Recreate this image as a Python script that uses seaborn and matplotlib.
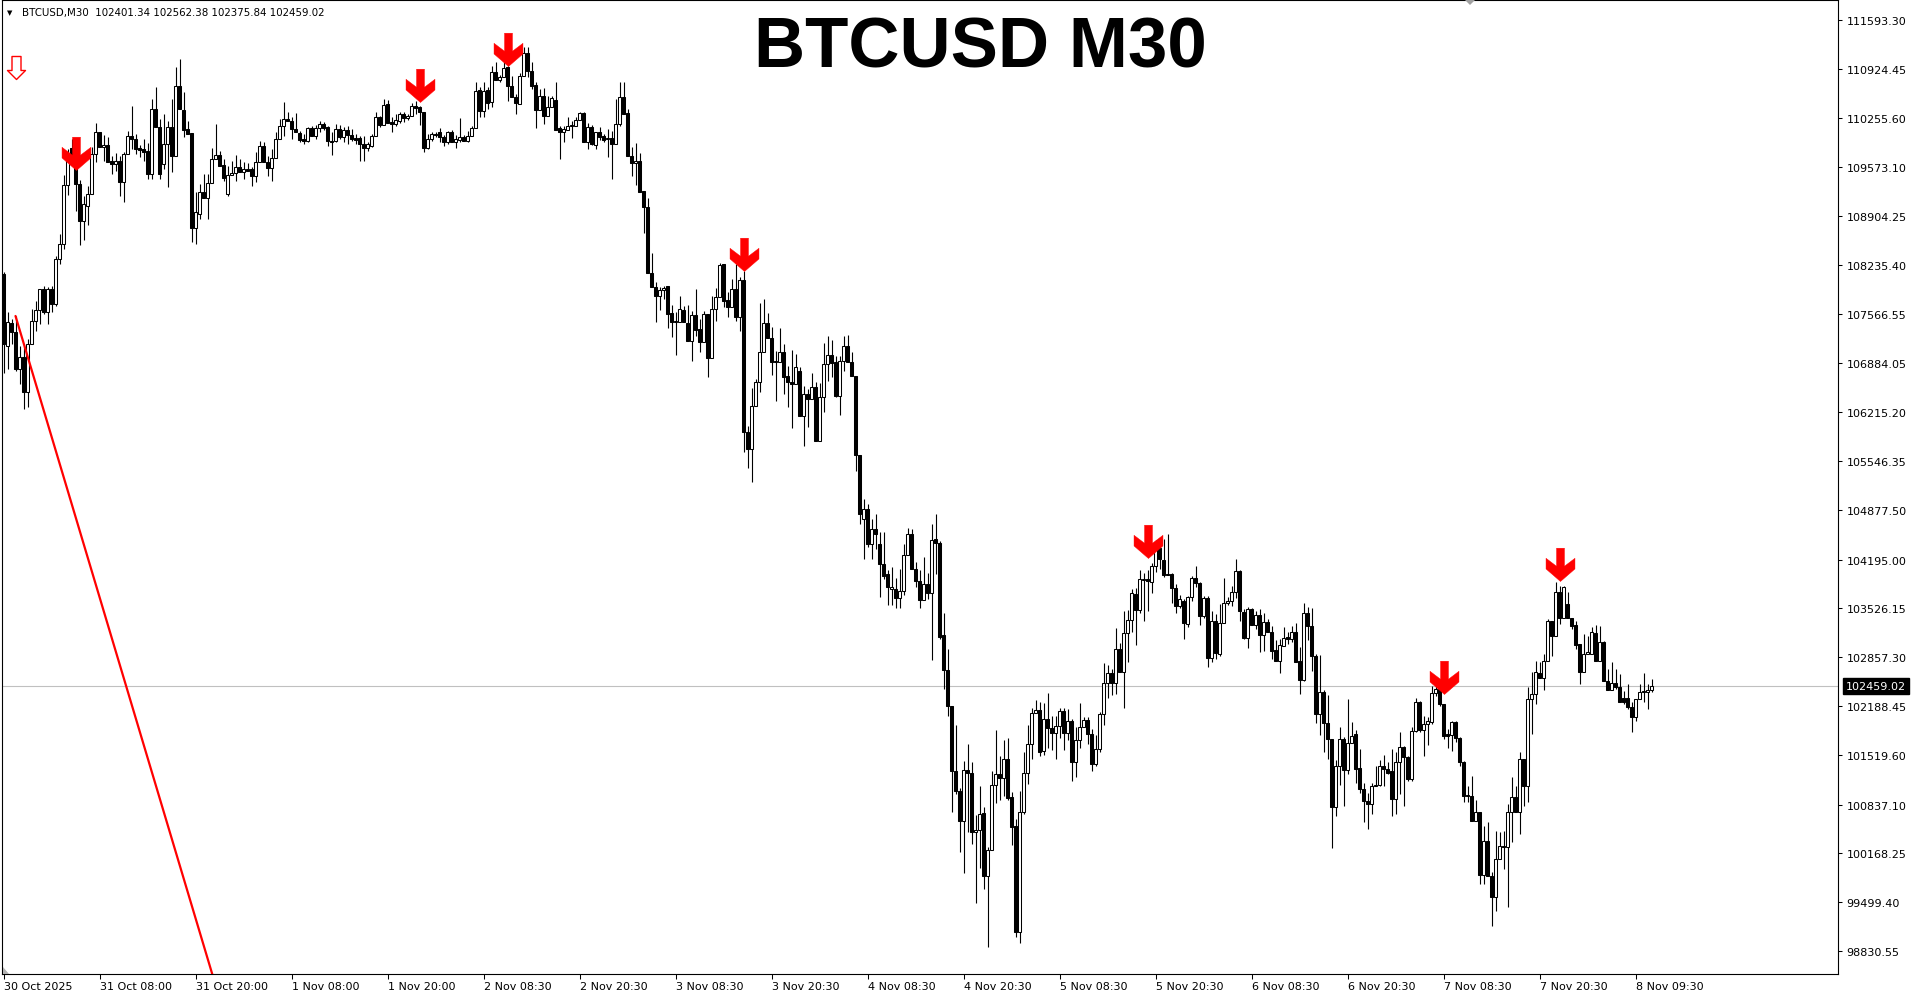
import numpy as np
import pandas as pd
import matplotlib
matplotlib.use("Agg")
import matplotlib.pyplot as plt
import seaborn as sns
from matplotlib.path import Path
from matplotlib.markers import MarkerStyle
from matplotlib.patches import Polygon
from matplotlib.transforms import blended_transform_factory

# M30 candles (one value per bar)
open_ = [
    108110, 107124, 107439, 107316, 106808, 106973, 106493, 107151, 107466, 107617,
    107905, 107590, 107905, 107700, 108316, 108522, 109331, 109838, 109687, 109345,
    108837, 109043, 109208, 109756, 110058, 109852, 109879, 109660, 109619, 109660,
    109372, 109756, 110003, 109962, 109838, 109825, 109797, 109482, 110373, 110126,
    109619, 109893, 110126, 109729, 110688, 110359, 110099, 110044, 108741, 108933,
    109235, 109153, 109358, 109687, 109742, 109605, 109208, 109468, 109495, 109578,
    109509, 109550, 109550, 109454, 109646, 109866, 109646, 109564, 109701, 109962,
    110140, 110236, 110208, 110099, 110044, 109962, 109934, 110112, 110003, 110112,
    110167, 110126, 109934, 109934, 110099, 109989, 110085, 110016, 109975, 109975,
    109893, 109838, 109866, 110003, 110263, 110154, 110441, 110195, 110167, 110208,
    110304, 110249, 110277, 110414, 110400, 110332, 109838, 109962, 110030, 110058,
    109989, 109921, 110058, 109921, 109948, 109989, 109934, 110003, 110112, 110634,
    110345, 110634, 110469, 110880, 110771, 110812, 110949, 110688, 110537, 110441,
    110825, 111141, 110894, 110702, 110359, 110551, 110277, 110400, 110496, 110112,
    110058, 110085, 110140, 110140, 110222, 110318, 109921, 110126, 109879, 110058,
    110003, 109962, 109975, 109893, 110167, 110538, 110318, 109729, 109633, 109660,
    109249, 109029, 108125, 107933, 107809, 107891, 107946, 107576, 107453, 107453,
    107617, 107439, 107192, 107549, 107357, 107178, 107562, 106959, 107631, 107795,
    108248, 107754, 107658, 107905, 107521, 108029, 105945, 105712, 106301, 106630,
    107041, 107439, 107233, 106918, 106904, 107041, 106712, 106630, 106603, 106781,
    106164, 106466, 106397, 106562, 105821, 106424, 106877, 107000, 106904, 106438,
    106918, 107124, 106904, 106712, 105629, 104752, 104889, 104409, 104615, 104409,
    104135, 103998, 103792, 103792, 103669, 103765, 104258, 104546, 104067, 103902,
    103642, 103861, 103738, 104478, 104423, 103162, 102682, 102188, 101297, 101023,
    100611, 101311, 101270, 100461, 100488, 100721, 99857, 100214, 101105, 101256,
    101201, 101462, 100940, 100543, 99090, 100735, 101270, 101667, 102092, 102133,
    101571, 102010, 101886, 101818, 101914, 102119, 101818, 101982, 101421, 101722,
    101900, 101996, 101804, 101393, 101599, 102078, 102503, 102641, 102503, 102970,
    102654, 103189, 103367, 103724, 103504, 103916, 103929, 103888, 104107, 104354,
    104190, 103998, 103998, 103806, 103559, 103628, 103312, 103683, 103943, 103875,
    103422, 103669, 102846, 103354, 102901, 103326, 103600, 103628, 103751, 104039,
    103477, 103121, 103518, 103299, 103436, 103162, 103340, 103203, 102956, 102805,
    103011, 103134, 103107, 103203, 102805, 102545, 103463, 103285, 102874, 102078,
    102380, 101955, 101736, 100803, 101366, 101736, 101311, 101681, 101804, 101338,
    101050, 100886, 100845, 101092, 101105, 101366, 101325, 101297, 100913, 101421,
    101626, 101489, 101187, 101845, 102243, 101859, 101941, 101969, 102366, 102421,
    102216, 101804, 101790, 101969, 101749, 101421, 100968, 100954, 100612, 100735,
    99871, 100337, 99857, 99569, 100090, 100268, 100255, 100735, 100940, 100735,
    101462, 101092, 102284, 102352, 102641, 102572, 102805, 103353, 103148, 103751,
    103395, 103587, 103395, 103299, 103038, 102654, 102901, 102901, 103189, 102805,
    103065, 102531, 102407, 102503, 102448, 102298, 102298, 102174, 102037, 102284,
    102380, 102380, 102401.34,
]
high = [
    108140, 107590, 107494, 107535, 107124, 107124, 107220, 107631, 107741, 107905,
    107946, 107932, 107946, 108357, 108659, 109468, 109825, 109962, 109825, 109400,
    109180, 109317, 109852, 110181, 110058, 110016, 109989, 109729, 109770, 109729,
    109784, 110071, 110414, 110030, 109879, 109962, 109907, 110510, 110675, 110236,
    110304, 110208, 110510, 110949, 111058, 110606, 110208, 110044, 109235, 109345,
    109482, 109482, 109838, 110167, 109797, 109687, 109592, 109660, 109742, 109687,
    109646, 109632, 109578, 109784, 109934, 109921, 109729, 109825, 110058, 110236,
    110469, 110332, 110263, 110318, 110071, 110030, 110126, 110140, 110154, 110208,
    110195, 110140, 110058, 110167, 110154, 110126, 110140, 110099, 110030, 110003,
    110003, 109921, 110030, 110332, 110277, 110510, 110496, 110263, 110304, 110332,
    110332, 110304, 110455, 110483, 110414, 110332, 110030, 110058, 110058, 110112,
    110016, 110071, 110085, 110016, 110249, 110016, 110071, 110140, 110743, 110675,
    110743, 110675, 110962, 111017, 110839, 111017, 110962, 110825, 110579, 110866,
    111223, 111223, 111017, 110743, 110647, 110661, 110551, 110551, 110743, 110140,
    110140, 110263, 110208, 110263, 110332, 110332, 110181, 110154, 110058, 110126,
    110030, 110099, 110071, 110510, 110743, 110743, 110373, 109852, 109907, 109770,
    109249, 109153, 108399, 108001, 107933, 107946, 107946, 107686, 107590, 107809,
    107672, 107686, 107604, 107905, 107494, 107604, 107562, 107809, 107919, 108262,
    108248, 107864, 108042, 108248, 108070, 108152, 106027, 106548, 106671, 107713,
    107768, 107576, 107384, 107055, 107370, 107151, 106850, 107069, 107014, 106836,
    106575, 106534, 106753, 106630, 106617, 107165, 107261, 107206, 106987, 106987,
    107261, 107275, 107041, 106712, 105629, 105026, 104957, 104752, 104820, 104574,
    104574, 104053, 104094, 103943, 104067, 104409, 104629, 104615, 104162, 104053,
    104231, 104012, 104683, 104820, 104450, 103463, 102970, 102188, 101928, 101064,
    101434, 101667, 101421, 100694, 101092, 100803, 100255, 101297, 101859, 101503,
    101722, 101749, 101009, 100639, 101023, 101558, 101928, 102161, 102270, 102243,
    102229, 102366, 102051, 102051, 102161, 102161, 102147, 102010, 101900, 102229,
    102037, 102037, 101872, 101790, 102106, 102777, 102750, 102695, 103258, 103052,
    103490, 103504, 103792, 103806, 104053, 104012, 104053, 104149, 104464, 104409,
    104478, 104546, 104012, 103861, 103710, 103655, 103696, 103971, 104107, 103888,
    103696, 103696, 103490, 103450, 103587, 103943, 103683, 103834, 104204, 104053,
    103518, 103545, 103532, 103490, 103518, 103463, 103381, 103285, 103093, 103107,
    103271, 103203, 103285, 103326, 102997, 103600, 103545, 103532, 102901, 102887,
    102407, 102339, 101736, 101448, 101900, 101763, 102284, 101969, 101859, 101599,
    101133, 100995, 101133, 101366, 101448, 101516, 101421, 101599, 101558, 101831,
    101640, 101503, 101900, 102298, 102256, 102051, 102037, 102462, 102517, 102462,
    102216, 101872, 101982, 101982, 101763, 101434, 101092, 101228, 100899, 100735,
    100543, 100598, 99912, 100474, 100461, 100474, 100844, 101215, 101092, 101558,
    101462, 102449, 102655, 102805, 102791, 102901, 103381, 103353, 103888, 103834,
    103834, 103751, 103395, 103353, 103038, 103175, 103148, 103271, 103299, 103285,
    103079, 102695, 102791, 102695, 102627, 102394, 102490, 102243, 102256, 102490,
    102641, 102490, 102562.38,
]
low = [
    106750, 106808, 107151, 106781, 106603, 106260, 106288, 107151, 107329, 107425,
    107562, 107425, 107590, 107672, 108248, 108453, 109194, 109715, 108974, 108508,
    108577, 108783, 109208, 109646, 109852, 109660, 109646, 109482, 109523, 109180,
    109098, 109756, 109825, 109756, 109715, 109660, 109413, 109413, 110126, 109413,
    109550, 109304, 109509, 109729, 110373, 109989, 110030, 108549, 108522, 108865,
    109153, 108865, 109358, 109687, 109592, 109386, 109180, 109468, 109386, 109509,
    109413, 109523, 109317, 109372, 109646, 109646, 109454, 109386, 109701, 109962,
    110003, 110208, 109962, 110058, 109921, 109893, 109921, 110003, 109962, 110058,
    110085, 109866, 109742, 109921, 109962, 109921, 109893, 109934, 109893, 109660,
    109660, 109797, 109852, 110003, 110126, 110154, 110181, 110058, 110140, 110181,
    110195, 110222, 110277, 110304, 110154, 109784, 109825, 109934, 109989, 109921,
    109866, 109893, 109921, 109838, 109921, 109934, 109921, 110003, 110112, 110263,
    110263, 110373, 110400, 110771, 110743, 110812, 110483, 110537, 110304, 110441,
    110825, 110812, 110647, 110112, 110359, 110167, 110277, 110400, 110085, 109687,
    109921, 110085, 109975, 110140, 110222, 109921, 109825, 109879, 109825, 109948,
    109921, 109715, 109413, 109893, 110140, 110304, 109729, 109454, 109331, 109235,
    108673, 108125, 107933, 107453, 107617, 107768, 107370, 107247, 107000, 107453,
    107453, 107192, 106918, 107261, 107041, 107178, 106699, 106959, 107466, 107795,
    107658, 107521, 107658, 107466, 107329, 105670, 105451, 105259, 106301, 106493,
    107041, 107233, 106726, 106370, 106904, 106466, 106287, 105999, 106603, 106164,
    105752, 106013, 106397, 105821, 105821, 106219, 106644, 106699, 106424, 106178,
    106781, 106904, 106712, 105410, 104683, 104204, 104368, 104204, 104340, 103683,
    103929, 103573, 103573, 103532, 103532, 103710, 104258, 104067, 103820, 103532,
    103642, 103655, 102818, 103998, 103107, 102421, 102051, 100735, 100982, 100186,
    99898, 100461, 100296, 99487, 99967, 99679, 98884, 100214, 100858, 100899,
    100954, 100899, 100282, 99021, 98939, 100707, 101119, 101462, 102092, 101503,
    101516, 101612, 101585, 101462, 101749, 101585, 101722, 101160, 101215, 101612,
    101900, 101667, 101297, 101366, 101558, 101928, 102298, 102339, 102352, 102654,
    102161, 102791, 103203, 103024, 103463, 103353, 103490, 103738, 104025, 104067,
    103957, 103984, 103600, 103463, 103532, 103107, 103271, 103628, 103820, 103299,
    103394, 102723, 102791, 102832, 102873, 103326, 103573, 103559, 103669, 103353,
    103107, 102983, 103299, 103244, 102928, 102942, 103203, 102832, 102805, 102641,
    103011, 103038, 103066, 102791, 102352, 102531, 103093, 102668, 101955, 101790,
    101558, 101462, 100241, 100680, 101105, 100817, 101256, 101681, 101133, 100995,
    100598, 100502, 100707, 101092, 101092, 101092, 101256, 100680, 100707, 100981,
    100817, 101160, 101160, 101831, 101831, 101503, 101653, 101941, 102325, 102188,
    101736, 101612, 101571, 101695, 101366, 100872, 100872, 100612, 100612, 99748,
    99748, 99857, 99172, 99377, 100090, 99953, 99432, 100323, 100735, 100433,
    100817, 100872, 101804, 102216, 102572, 102407, 102805, 102874, 103148, 103312,
    103395, 103395, 103244, 102970, 102490, 102654, 102901, 102901, 102805, 102805,
    102531, 102407, 102407, 102421, 102243, 102216, 102147, 101831, 101982, 102284,
    102243, 102147, 102375.84,
]
close = [
    107150, 107453, 107316, 106808, 106973, 106493, 107151, 107466, 107617, 107905,
    107590, 107905, 107700, 108316, 108522, 109331, 109715, 109715, 109345, 108837,
    109070, 109208, 109756, 110058, 109852, 109879, 109646, 109619, 109660, 109372,
    109756, 110003, 109962, 109825, 109811, 109784, 109482, 110373, 110126, 109482,
    109893, 110126, 109729, 110688, 110373, 110085, 110030, 108741, 108961, 109235,
    109153, 109358, 109687, 109742, 109592, 109427, 109468, 109495, 109578, 109509,
    109550, 109523, 109454, 109646, 109866, 109646, 109564, 109701, 109962, 110140,
    110236, 110208, 110099, 110058, 109948, 109934, 110112, 110003, 110112, 110167,
    110112, 109934, 109921, 110099, 109989, 110085, 110016, 109962, 109948, 109893,
    109838, 109893, 110003, 110263, 110154, 110428, 110181, 110167, 110222, 110304,
    110249, 110277, 110414, 110387, 110332, 109838, 109962, 110030, 110016, 109989,
    109921, 110058, 109921, 109962, 109989, 109934, 110003, 110112, 110620, 110345,
    110620, 110455, 110880, 110771, 110812, 110935, 110688, 110537, 110455, 110825,
    111141, 110894, 110688, 110359, 110551, 110277, 110400, 110524, 110085, 110058,
    110099, 110140, 110154, 110222, 110318, 109921, 110126, 109893, 110058, 109989,
    109948, 109975, 109893, 110167, 110538, 110304, 109729, 109633, 109660, 109235,
    109029, 108125, 107933, 107809, 107891, 107919, 107562, 107453, 107466, 107631,
    107453, 107192, 107549, 107343, 107178, 107562, 106959, 107631, 107795, 108234,
    107741, 107658, 107905, 107521, 108029, 105945, 105712, 106301, 106630, 107041,
    107439, 107233, 106904, 106904, 107041, 106699, 106630, 106603, 106836, 106164,
    106466, 106397, 106562, 105821, 106424, 106877, 107000, 106891, 106438, 106918,
    107124, 106904, 106712, 105629, 104820, 104889, 104409, 104615, 104546, 104135,
    103971, 103820, 103820, 103669, 103765, 104258, 104546, 104067, 103902, 103642,
    103861, 103738, 104464, 104423, 103134, 102682, 102188, 101297, 101023, 100611,
    101311, 101270, 100461, 100488, 100707, 99857, 100214, 101105, 101256, 101201,
    101462, 100927, 100529, 99090, 100735, 101270, 101667, 102092, 102133, 101558,
    102010, 101886, 101818, 101914, 102119, 101818, 101982, 101421, 101722, 101900,
    101996, 101804, 101393, 101599, 102078, 102503, 102641, 102503, 102970, 102654,
    103189, 103367, 103737, 103504, 103929, 103929, 103902, 104107, 104354, 104204,
    103984, 103984, 103806, 103559, 103655, 103326, 103683, 103943, 103875, 103422,
    103669, 102846, 103354, 102914, 103326, 103600, 103628, 103751, 104039, 103490,
    103121, 103518, 103299, 103436, 103162, 103340, 103203, 102942, 102805, 103024,
    103121, 103107, 103203, 102791, 102545, 103463, 103285, 102874, 102078, 102380,
    101955, 101736, 100803, 101366, 101736, 101311, 101681, 101777, 101325, 101050,
    100886, 100845, 101092, 101105, 101366, 101325, 101270, 100913, 101421, 101626,
    101489, 101187, 101845, 102243, 101859, 101941, 101982, 102366, 102421, 102216,
    101777, 101777, 101969, 101749, 101421, 100954, 100954, 100612, 100735, 99871,
    100337, 99857, 99569, 100090, 100268, 100255, 100735, 100940, 100735, 101462,
    101092, 102284, 102352, 102654, 102572, 102805, 103353, 103148, 103751, 103395,
    103820, 103395, 103285, 103025, 102654, 102901, 102928, 103203, 102805, 103065,
    102531, 102407, 102503, 102448, 102243, 102243, 102174, 102037, 102284, 102380,
    102394, 102407, 102459.02,
]

# time axis: a label every 24 bars
time_bars = [0, 24, 48, 72, 96, 120, 144, 168, 192, 216, 240, 264, 288, 312, 336, 360, 384, 408]
time_labels = ['30 Oct 2025', '31 Oct 08:00', '31 Oct 20:00', '1 Nov 08:00', '1 Nov 20:00',
               '2 Nov 08:30', '2 Nov 20:30', '3 Nov 08:30', '3 Nov 20:30', '4 Nov 08:30',
               '4 Nov 20:30', '5 Nov 08:30', '5 Nov 20:30', '6 Nov 08:30', '6 Nov 20:30',
               '7 Nov 08:30', '7 Nov 20:30', '8 Nov 09:30']
price_ticks = [111593.30, 110924.45, 110255.60, 109573.10, 108904.25, 108235.40, 107566.55,
               106884.05, 106215.20, 105546.35, 104877.50, 104195.00, 103526.15, 102857.30,
               102188.45, 101519.60, 100837.10, 100168.25, 99499.40, 98830.55]

# sell signals (arrow tip bar / price)
signal_bar = [18, 104, 126, 185, 286, 360, 389]
signal_price = [109537, 110469, 110962, 108152, 104217, 102352, 103902]
first_signal_bar = [3]
first_signal_price = [110784]

# red trend line anchors
trend_bar = [3, 60]
trend_price = [107535, 97080]

last_price = 102459.02
header = "BTCUSD,M30  102401.34 102562.38 102375.84 102459.02"

W, H = 1917, 995


def main():
    sns.set_style("white")
    plt.rcParams['font.family'] = ['DejaVu Sans']

    df = pd.DataFrame({'open': open_, 'high': high, 'low': low, 'close': close})
    df['bar'] = np.arange(len(df))
    df['up'] = df['close'] >= df['open']
    df['bottom'] = df[['open', 'close']].min(axis=1)
    df['size'] = (df['close'] - df['open']).abs().clip(lower=12)

    fig = plt.figure(figsize=(W / 100, H / 100), dpi=100)
    ax = fig.add_axes([2 / W, 20 / H, 1836 / W, 974 / H])

    # wicks then bodies
    ax.vlines(df['bar'], df['low'], df['high'], color='black', linewidth=0.8, zorder=2)
    ax.bar(df['bar'], df['size'], bottom=df['bottom'], width=0.55,
           color=np.where(df['up'], 'white', 'black'), edgecolor='black',
           linewidth=0.75, zorder=3)

    # current price line
    ax.axhline(last_price, color='#c0c0c0', linewidth=0.8, zorder=1)

    # trend line
    sns.lineplot(x=trend_bar, y=trend_price, color='red', linewidth=1.6, ax=ax, zorder=4)

    # sell arrows
    arrow = Path([(-3.9, 32.7), (3.9, 32.7), (3.9, 15), (14.2, 22.8), (14.2, 12.3), (0, 0),
                  (-14.2, 12.3), (-14.2, 22.8), (-3.9, 15), (-3.9, 32.7)],
                 [Path.MOVETO] + [Path.LINETO] * 8 + [Path.CLOSEPOLY])
    sns.scatterplot(x=signal_bar, y=signal_price, marker=MarkerStyle(arrow), s=2300,
                    color='#ff0000', edgecolor='#ff0000', linewidth=0.3, ax=ax, zorder=6,
                    legend=False)
    hollow = Path([(-4.5, 23), (4.5, 23), (4.5, 9), (9, 9), (0, 0), (-9, 9), (-4.5, 9),
                   (-4.5, 23)],
                  [Path.MOVETO] + [Path.LINETO] * 6 + [Path.CLOSEPOLY])
    sns.scatterplot(x=first_signal_bar, y=first_signal_price, marker=MarkerStyle(hollow),
                    s=1097, color='white', edgecolor='#ff0000', linewidth=1.0, ax=ax,
                    zorder=6, legend=False)

    # scales
    ax.set_xlim(-0.375, 458.625)
    ax.set_ylim(98514, 111867)
    ax.set_xlabel('')
    ax.set_ylabel('')

    ax.yaxis.tick_right()
    ax.set_yticks(price_ticks)
    ax.set_yticklabels([f'{v:.2f}' for v in price_ticks])
    ax.set_xticks(time_bars)
    ax.set_xticklabels(time_labels)
    plt.setp(ax.get_xticklabels(), ha='left')
    ax.tick_params(axis='y', which='both', direction='out', length=3, width=0.75, pad=3,
                   labelsize=8, colors='black', right=True, left=False)
    ax.tick_params(axis='x', which='both', direction='out', length=3.5, width=0.75, pad=1.5,
                   labelsize=8, colors='black', bottom=True)
    for sp in ax.spines.values():
        sp.set_color('black')
        sp.set_linewidth(0.8)

    # current price tag on the scale
    tr = blended_transform_factory(ax.transAxes, ax.transData)
    ax.text(1 + 8 / 1836, last_price, f'{last_price:.2f}', transform=tr, ha='left',
            va='center', fontsize=8, color='white', zorder=10, clip_on=False,
            bbox=dict(boxstyle='square,pad=0.25', fc='black', ec='black'))

    # small grey chart markers (shift marker on top, scroll corner bottom-left)
    fig.patches.append(Polygon([(1465 / W, 1 - 1 / H), (1475 / W, 1 - 1 / H), (1470 / W, 1 - 6 / H)],
                               closed=True, transform=fig.transFigure, fc='#a0a0a0', ec='none'))
    fig.patches.append(Polygon([(3 / W, 1 - 968 / H), (3 / W, 1 - 975 / H), (9 / W, 1 - 975 / H)],
                               closed=True, transform=fig.transFigure, fc='#b0b0b0', ec='none'))

    # header + title
    fig.text(7 / W, 1 - 15 / H, '\u25BC', fontsize=5, color='black', va='baseline')
    fig.text(21.7 / W, 1 - 16 / H, header, fontsize=7.4, color='black', va='baseline')
    fig.text(980 / W, 1 - 67 / H, 'BTCUSD M30', ha='center', va='baseline', fontsize=51,
             fontweight='bold', family='Liberation Sans', color='black')

    fig.savefig('out.png', dpi=100)


if __name__ == "__main__":
    main()
